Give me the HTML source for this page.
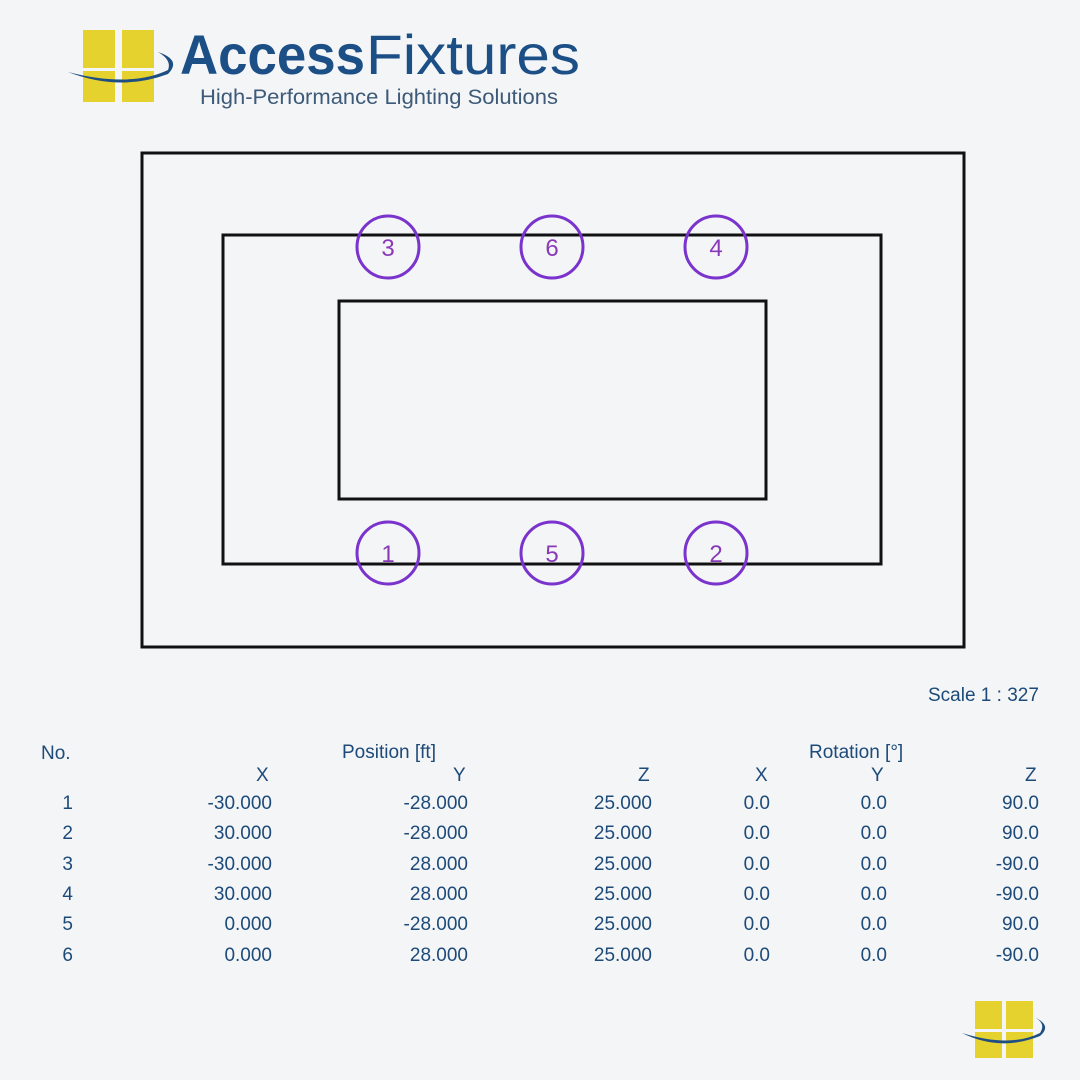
<!DOCTYPE html>
<html><head><style>
body{margin:0;width:1080px;height:1080px;background:#f3f5f7;position:relative;font-family:"Liberation Sans",sans-serif;overflow:hidden}
.t{position:absolute;color:#1d4a78;font-size:19px;white-space:nowrap}
.r{text-align:right}
</style></head><body>
<svg width="1080" height="1080" style="position:absolute;left:0;top:0">
 <g fill="#e6d22f">
  <rect x="83" y="30" width="32" height="38"/><rect x="122" y="30" width="32" height="38"/>
  <rect x="83" y="71" width="32" height="31"/><rect x="122" y="71" width="32" height="31"/>
  <rect x="975" y="1001" width="27" height="28"/><rect x="1006" y="1001" width="27" height="28"/>
  <rect x="975" y="1032" width="27" height="26"/><rect x="1006" y="1032" width="27" height="26"/>
 </g>
 <path d="M68,72 Q130,88 168,70 Q172,60 158,52 Q182,60 168,74 Q120,92 68,72Z" fill="#1f4f82"/>
 <path d="M962,1033 Q1010,1048 1040,1033 Q1046,1024 1036,1018 Q1052,1026 1040,1036 Q1000,1052 962,1033Z" fill="#1f4f82"/>
 <text x="180" y="74" font-family="Liberation Sans" font-weight="bold" font-size="56" fill="#1b4f86" textLength="185" lengthAdjust="spacingAndGlyphs">Access</text>
 <text x="366" y="74" font-family="Liberation Sans" font-size="56" fill="#1b4f86" textLength="214" lengthAdjust="spacingAndGlyphs">Fixtures</text>
 <text x="200" y="104" font-family="Liberation Sans" font-size="21" fill="#3d5a78" textLength="358" lengthAdjust="spacingAndGlyphs">High-Performance Lighting Solutions</text>
 <g fill="none" stroke="#111" stroke-width="3">
  <rect x="142" y="153" width="822" height="494"/>
  <rect x="223" y="235" width="658" height="329"/>
  <rect x="339" y="301" width="427" height="198"/>
 </g>
 <g fill="none" stroke="#7a33cc" stroke-width="3">
  <circle cx="388" cy="247" r="31"/><circle cx="552" cy="247" r="31"/><circle cx="716" cy="247" r="31"/>
  <circle cx="388" cy="553" r="31"/><circle cx="552" cy="553" r="31"/><circle cx="716" cy="553" r="31"/>
 </g>
 <g font-family="Liberation Sans" font-size="24" fill="#8a3ab8" text-anchor="middle">
  <text x="388" y="256">3</text><text x="552" y="256">6</text><text x="716" y="256">4</text>
  <text x="388" y="562">1</text><text x="552" y="562">5</text><text x="716" y="562">2</text>
 </g>
</svg>
<div class="t" style="left:928px;top:685px">Scale 1 : 327</div>
<div class="t" style="left:41px;top:743px">No.</div>
<div class="t" style="left:342px;top:742px">Position [ft]</div>
<div class="t" style="left:809px;top:742px">Rotation [°]</div>
<div class="t" style="left:256px;top:765px">X</div>
<div class="t" style="left:453px;top:765px">Y</div>
<div class="t" style="left:638px;top:765px">Z</div>
<div class="t" style="left:755px;top:765px">X</div>
<div class="t" style="left:871px;top:765px">Y</div>
<div class="t" style="left:1025px;top:765px">Z</div>
<div id="rows"></div>
<script>
var d=[["1","-30.000","-28.000","25.000","0.0","0.0","90.0"],["2","30.000","-28.000","25.000","0.0","0.0","90.0"],["3","-30.000","28.000","25.000","0.0","0.0","-90.0"],["4","30.000","28.000","25.000","0.0","0.0","-90.0"],["5","0.000","-28.000","25.000","0.0","0.0","90.0"],["6","0.000","28.000","25.000","0.0","0.0","-90.0"]];
var rx=[73,272,468,652,770,887,1039],h="";
d.forEach(function(r,i){r.forEach(function(v,j){h+='<div class="t r" style="right:'+(1080-rx[j])+'px;top:'+(793+i*30.3)+'px">'+v+'</div>';});});
document.getElementById("rows").innerHTML=h;
</script>
</body></html>
